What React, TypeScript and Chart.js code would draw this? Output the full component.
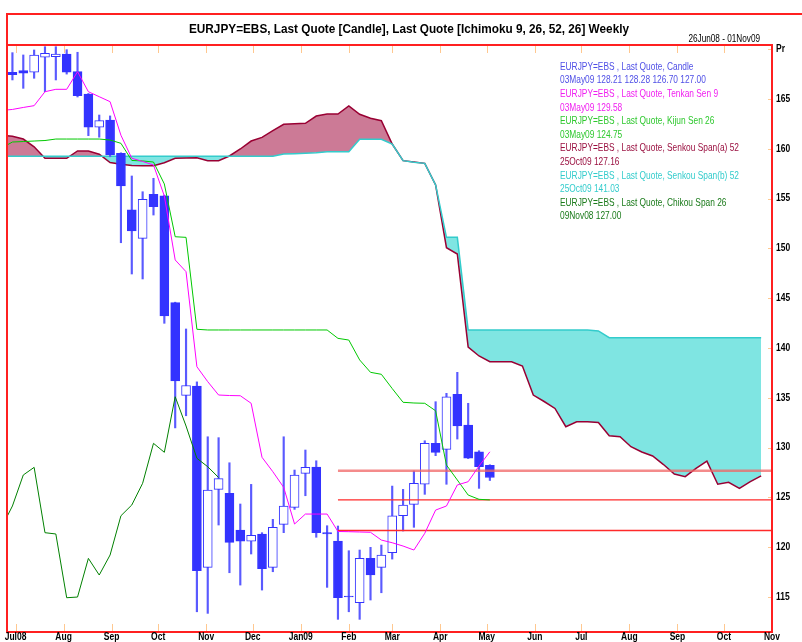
import { useEffect, useRef } from 'react';
import { Chart, registerables } from 'chart.js';

Chart.register(...registerables);

// ---------- axis / time basics ----------
const AXIS_START = Date.UTC(2008, 5, 26); // 26Jun08
const AXIS_END = Date.UTC(2009, 10, 1); // 01Nov09
const FIRST_WEEK = Date.UTC(2008, 5, 22); // week index 0 of the indicator arrays (one week before first candle)
const DAY = 86400000;

const Y_MIN = 111.49;
const Y_MAX = 170.42;
const Y_TICKS = [115, 120, 125, 130, 135, 140, 145, 150, 155, 160, 165, 170];

const MONTH_DATES = [
  '2008-07-01', '2008-08-01', '2008-09-01', '2008-10-01', '2008-11-01', '2008-12-01',
  '2009-01-01', '2009-02-01', '2009-03-01', '2009-04-01', '2009-05-01', '2009-06-01',
  '2009-07-01', '2009-08-01', '2009-09-01', '2009-10-01', '2009-11-01',
];
const MONTH_LABELS = [
  'Jul08', 'Aug', 'Sep', 'Oct', 'Nov', 'Dec', 'Jan09', 'Feb', 'Mar', 'Apr', 'May', 'Jun',
  'Jul', 'Aug', 'Sep', 'Oct', 'Nov',
];

// ---------- candles (weekly, 29Jun08 .. 03May09) ----------
const candleOpen = [
  167.68, 167.84, 167.68, 169.19, 169.25, 169.52, 167.74, 165.50, 162.16, 162.89,
  159.55, 153.86, 151.01, 155.43, 155.29, 144.55, 135.24, 136.18, 117.98, 125.81,
  125.41, 121.73, 120.62, 121.33, 117.98, 122.30, 124.00, 127.42, 128.05, 121.46,
  120.62, 115.03, 114.43, 118.88, 117.98, 119.45, 123.16, 124.31, 126.32, 130.43,
  129.83, 135.35, 132.27, 129.59, 128.21,
];
const candleHigh = [
  169.65, 169.42, 169.92, 170.25, 170.25, 169.95, 169.69, 165.55, 163.39, 163.30,
  159.60, 157.27, 155.69, 157.04, 155.35, 144.60, 141.91, 136.60, 131.09, 131.00,
  128.48, 124.34, 126.31, 121.46, 122.80, 131.09, 127.75, 129.76, 128.68, 122.16,
  122.13, 119.65, 119.72, 119.99, 120.22, 126.14, 125.81, 127.65, 130.69, 134.61,
  135.45, 137.56, 134.45, 129.69, 128.28,
];
const candleLow = [
  166.91, 166.07, 167.08, 165.73, 166.91, 167.50, 165.20, 161.32, 161.16, 159.20,
  150.57, 147.43, 146.93, 153.35, 142.48, 131.98, 133.20, 113.52, 113.36, 122.23,
  117.44, 116.20, 119.32, 115.70, 117.54, 121.46, 123.80, 125.17, 121.00, 115.97,
  112.76, 113.52, 112.76, 114.70, 115.43, 118.81, 121.63, 122.00, 125.31, 129.19,
  126.32, 130.86, 128.90, 125.91, 126.70,
];
const candleClose = [
  167.44, 167.58, 169.42, 169.59, 169.52, 167.68, 165.33, 162.16, 162.82, 159.38,
  156.27, 151.75, 154.93, 154.19, 143.21, 136.69, 136.24, 117.64, 125.74, 126.88,
  120.49, 120.62, 121.20, 117.84, 122.00, 124.14, 127.25, 128.02, 121.46, 121.33,
  114.93, 115.00, 118.88, 117.21, 119.22, 123.16, 124.24, 126.42, 130.43, 129.53,
  135.11, 132.17, 128.93, 128.08, 127.00,
];

// ---------- Ichimoku lines (week index 0 = 22Jun08) ----------
const tenkanSen = [
  163.85, 163.95, 164.15, 164.33, 165.73, 165.97, 165.97, 167.74, 165.73, 165.23,
  164.73, 161.36, 159.05, 158.73, 158.37, 155.26, 148.84, 147.66, 138.12, 136.62,
  135.28, 135.23, 135.21, 134.45, 129.03, 127.58, 126.01, 122.33, 123.33, 123.33,
  123.33, 121.58, 121.56, 121.53, 121.50, 120.72, 120.45, 120.12, 119.72, 121.40,
  123.73, 124.14, 126.25, 126.58, 128.15, 129.58,
];
const kijunSen = [
  160.08, 160.68, 160.73, 160.78, 160.83, 160.98, 160.98, 160.98, 160.98, 160.98,
  160.88, 160.55, 158.83, 158.78, 158.67, 156.47, 151.17, 151.11, 141.88, 141.81,
  141.81, 141.81, 141.81, 141.81, 141.81, 141.81, 141.81, 141.81, 141.81, 141.81,
  141.81, 140.97, 140.80, 138.80, 137.56, 137.36, 135.93, 134.55, 134.48, 134.45,
  133.70, 128.25, 126.75, 125.24, 124.81, 124.75,
];
const chikouSpan = [
  122.00, 124.14, 127.25, 128.02, 121.46, 121.33, 114.93, 115.00, 118.88, 117.21,
  119.22, 123.16, 124.24, 126.42, 130.43, 129.53, 135.11, 132.17, 128.93, 128.08,
  127.00,
];
const senkouA = [
  161.37, 161.26, 160.98, 160.20, 159.05, 159.05, 159.05, 159.78, 159.78, 159.45,
  158.62, 158.44, 158.32, 158.30, 158.30, 158.60, 159.05, 159.08, 159.11, 158.81,
  158.81, 159.28, 159.98, 160.78, 161.15, 161.82, 162.46, 162.51, 162.56, 163.29,
  163.49, 163.49, 164.30, 163.46, 163.06, 162.82, 160.48, 158.81, 158.67, 158.54,
  156.37, 150.07, 149.44, 140.10, 139.20, 138.62, 138.62, 138.62, 138.19, 135.28,
  134.63, 133.93, 132.10, 132.60, 132.60, 132.52, 131.19, 131.09, 130.09, 129.56,
  129.16, 128.30, 127.35, 127.08, 127.92, 128.65, 126.32, 126.52, 125.91, 126.58,
  127.16,
];
const senkouB = [
  159.25, 159.25, 159.25, 159.25, 159.25, 159.25, 159.25, 159.25, 159.25, 159.25,
  159.25, 159.25, 159.25, 159.25, 159.25, 159.25, 159.25, 159.25, 159.25, 159.25,
  159.25, 159.25, 159.25, 159.25, 159.25, 159.25, 159.48, 159.51, 159.55, 159.61,
  159.71, 159.71, 159.71, 160.95, 160.95, 160.95, 160.48, 158.81, 158.64, 158.54,
  156.37, 151.11, 151.11, 141.81, 141.81, 141.81, 141.81, 141.81, 141.81, 141.81,
  141.81, 141.81, 141.81, 141.81, 141.81, 141.71, 141.03, 141.03, 141.03, 141.03,
  141.03, 141.03, 141.03, 141.03, 141.03, 141.03, 141.03, 141.03, 141.03, 141.03,
  141.03,
];

// horizontal reference lines from 25Jan09
const hLineStart = '2009-01-25';
const hLineValues = [127.68, 124.75, 121.68];

const LEGEND_LINES = [
  { text: 'EURJPY=EBS , Last Quote, Candle', color: '#4f4fe6' },
  { text: '03May09 128.21 128.28 126.70 127.00', color: '#4f4fe6' },
  { text: 'EURJPY=EBS , Last Quote, Tenkan Sen 9', color: '#f01ef0' },
  { text: '03May09 129.58', color: '#f01ef0' },
  { text: 'EURJPY=EBS , Last Quote, Kijun Sen 26', color: '#2ec82e' },
  { text: '03May09 124.75', color: '#2ec82e' },
  { text: 'EURJPY=EBS , Last Quote, Senkou Span(a) 52', color: '#9a1040' },
  { text: '25Oct09 127.16', color: '#9a1040' },
  { text: 'EURJPY=EBS , Last Quote, Senkou Span(b) 52', color: '#33cccc' },
  { text: '25Oct09 141.03', color: '#33cccc' },
  { text: 'EURJPY=EBS , Last Quote, Chikou Span 26', color: '#1a7a1a' },
  { text: '09Nov08 127.00', color: '#1a7a1a' },
];

const TITLE = 'EURJPY=EBS, Last Quote [Candle], Last Quote [Ichimoku 9, 26, 52, 26] Weekly';
const DATE_RANGE = '26Jun08 - 01Nov09';

// ---------- helpers ----------
const dayOf = (ms: number) => (ms - AXIS_START) / DAY;
const dayOfStr = (s: string) => {
  const [y, m, d] = s.split('-').map(Number);
  return dayOf(Date.UTC(y, m - 1, d));
};
const weekX = (i: number) => dayOf(FIRST_WEEK) + 7 * i;
const series = (vals: number[], offset: number) => vals.map((v, i) => ({ x: weekX(i + offset), y: v }));

const FONT = '"Liberation Sans", Arial, "DejaVu Sans", sans-serif';

function drawText(
  ctx: CanvasRenderingContext2D,
  text: string,
  x: number,
  y: number,
  font: string,
  color: string,
  align: 'left' | 'center' | 'right',
  sx: number,
) {
  ctx.save();
  ctx.font = font;
  ctx.fillStyle = color;
  ctx.textBaseline = 'middle';
  ctx.textAlign = 'left';
  const w = ctx.measureText(text).width * sx;
  const left = align === 'left' ? x : align === 'center' ? x - w / 2 : x - w;
  ctx.translate(left, y);
  ctx.scale(sx, 1);
  ctx.fillText(text, 0, 0);
  ctx.restore();
}

const decorPlugin = {
  id: 'decor',
  afterDraw(chart: any) {
    const ctx: CanvasRenderingContext2D = chart.ctx;
    const { left, right, top, bottom } = chart.chartArea;
    const xs = chart.scales.x;
    const ys = chart.scales.y;

    // tick marks
    ctx.save();
    ctx.strokeStyle = '#ffc890';
    ctx.lineWidth = 1;
    MONTH_DATES.forEach((d) => {
      const px = Math.round(xs.getPixelForValue(dayOfStr(d))) + 0.5;
      ctx.beginPath();
      ctx.moveTo(px, bottom - 8);
      ctx.lineTo(px, bottom - 1);
      ctx.moveTo(px, top + 1);
      ctx.lineTo(px, top + 8);
      ctx.stroke();
    });
    Y_TICKS.forEach((v) => {
      const py = Math.round(ys.getPixelForValue(v)) + 0.5;
      ctx.beginPath();
      ctx.moveTo(right - 4, py);
      ctx.lineTo(right - 1, py);
      ctx.stroke();
    });
    ctx.restore();

    // frames
    ctx.save();
    ctx.strokeStyle = '#ff2020';
    ctx.lineWidth = 2;
    ctx.strokeRect(left, top, right - left, bottom - top);
    ctx.beginPath();
    ctx.moveTo(left, top);
    ctx.lineTo(left, 14);
    ctx.lineTo(chart.width + 2, 14);
    ctx.stroke();
    ctx.restore();

    // y labels
    Y_TICKS.forEach((v) => {
      const py = ys.getPixelForValue(v);
      drawText(ctx, v === 170 ? 'Pr' : String(v), right + 4, py, `bold 10px ${FONT}`, '#000', 'left', 0.85);
    });
    // x labels
    MONTH_DATES.forEach((d, i) => {
      const px = xs.getPixelForValue(dayOfStr(d));
      drawText(ctx, MONTH_LABELS[i], px, bottom + 5.5, `bold 10px ${FONT}`, '#000', 'center', 0.85);
    });

    // title
    ctx.save();
    ctx.font = `bold 13px ${FONT}`;
    const tw = ctx.measureText(TITLE).width;
    ctx.restore();
    drawText(ctx, TITLE, 409, 29, `bold 13px ${FONT}`, '#000', 'center', 440 / tw);
    drawText(ctx, DATE_RANGE, 760, 39, `10px ${FONT}`, '#000', 'right', 0.82);

    // legend
    ctx.save();
    ctx.font = `11px ${FONT}`;
    const lw = ctx.measureText(LEGEND_LINES[6].text).width;
    ctx.restore();
    const lsx = 179 / lw;
    LEGEND_LINES.forEach((l, i) => {
      drawText(ctx, l.text, 560, 66.7 + 13.6 * i, `11px ${FONT}`, l.color, 'left', lsx);
    });
  },
};

export default function App() {
  const ref = useRef<HTMLCanvasElement>(null);
  useEffect(() => {
    document.body.style.margin = '0';
    const candleX = candleOpen.map((_, k) => weekX(k + 1));
    const bodyColors = candleOpen.map((o, k) => (candleClose[k] < o ? '#3333ff' : '#ffffff'));
    const hStart = dayOfStr(hLineStart);
    const hEnd = dayOf(AXIS_END) + 3;

    const chart = new Chart(ref.current as HTMLCanvasElement, {
      type: 'line',
      data: {
        datasets: [
          {
            type: 'line',
            label: 'Senkou Span(a)',
            data: series(senkouA, 0),
            borderColor: '#990033',
            borderWidth: 1.5,
            pointRadius: 0,
            fill: { target: 1, above: '#cc7a96', below: '#7fe5e2' },
            order: 10,
          } as any,
          {
            type: 'line',
            label: 'Senkou Span(b)',
            data: series(senkouB, 0),
            borderColor: '#33cccc',
            borderWidth: 1.5,
            pointRadius: 0,
            fill: false,
            order: 9,
          },
          {
            type: 'bar',
            label: 'wicks',
            data: candleX.map((x, k) => ({ x, y: [candleLow[k], candleHigh[k]] })),
            backgroundColor: '#5a5aff',
            borderWidth: 0,
            barThickness: 1.5,
            grouped: false,
            order: 6,
          } as any,
          {
            type: 'bar',
            label: 'bodies',
            data: candleX.map((x, k) => ({ x, y: [candleOpen[k], candleClose[k]] })),
            backgroundColor: bodyColors,
            borderColor: '#3333ff',
            borderWidth: 1,
            borderSkipped: false,
            barThickness: 9,
            minBarLength: 1,
            grouped: false,
            order: 5,
          } as any,
          ...hLineValues.map((v, i) => ({
            type: 'line' as const,
            label: 'h' + i,
            data: [{ x: hStart, y: v }, { x: hEnd, y: v }],
            borderColor: i === 0 ? 'rgba(240,100,100,0.75)' : '#ff2a2a',
            borderWidth: i === 0 ? 2.5 : 1.3,
            pointRadius: 0,
            fill: false,
            order: 3,
          })),
          {
            type: 'line',
            label: 'Tenkan',
            data: series(tenkanSen, 0),
            borderColor: '#ff00ff',
            borderWidth: 1,
            pointRadius: 0,
            fill: false,
            order: 2,
          },
          {
            type: 'line',
            label: 'Kijun',
            data: series(kijunSen, 0),
            borderColor: '#00c800',
            borderWidth: 1,
            pointRadius: 0,
            fill: false,
            order: 2,
          },
          {
            type: 'line',
            label: 'Chikou',
            data: series(chikouSpan, 0),
            borderColor: '#008000',
            borderWidth: 1,
            pointRadius: 0,
            fill: false,
            order: 2,
          },
        ],
      },
      options: {
        responsive: false,
        animation: false,
        devicePixelRatio: 1,
        layout: { padding: { left: 7, top: 45, right: 30, bottom: 10 } },
        plugins: { legend: { display: false }, title: { display: false }, tooltip: { enabled: false } },
        scales: {
          x: { type: 'linear', min: dayOf(AXIS_START) - 0.5, max: dayOf(AXIS_END), display: false, offset: false },
          y: { type: 'linear', min: Y_MIN, max: Y_MAX, display: false },
        },
        events: [],
      },
      plugins: [decorPlugin],
    } as any);
    return () => chart.destroy();
  }, []);
  return (
    <div style={{ width: 802, height: 642, background: '#fff' }}>
      <canvas ref={ref} width={802} height={642} style={{ display: 'block' }} />
    </div>
  );
}
